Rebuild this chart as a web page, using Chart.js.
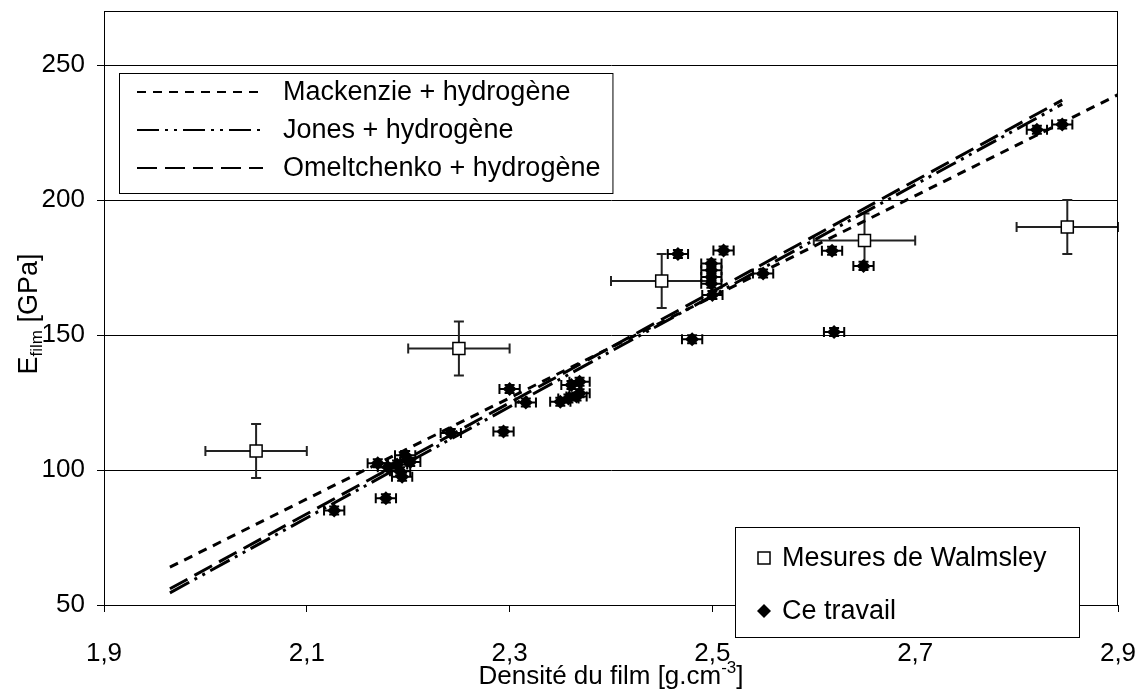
<!DOCTYPE html>
<html>
<head>
<meta charset="utf-8">
<script src="https://cdn.jsdelivr.net/npm/chart.js@4.4.1/dist/chart.umd.min.js"></script>
<style>
  html, body { margin: 0; padding: 0; background: #fff; }
  #wrap { width: 1144px; height: 690px; }
</style>
</head>
<body>
<div id="wrap"><canvas id="grafico" width="1144" height="690"></canvas></div>
<script>
// valeurs
const xTicks = [1.9, 2.1, 2.3, 2.5, 2.7, 2.9];
const yTicks = [50, 100, 150, 200, 250];

// droites des modèles (extrémités)
const mackX = [1.965, 2.9];
const mackY = [64, 239];
const jonesX = [1.965, 2.845];
const jonesY = [54.5, 235.5];
const omelX = [1.965, 2.845];
const omelY = [56, 237];

// mesures de Walmsley
const walmX = [2.05, 2.25, 2.45, 2.65, 2.85];
const walmY = [107, 145, 170, 185, 190];
const walmErrX = [0.05, 0.05, 0.05, 0.05, 0.05];
const walmErrY = [10, 10, 10, 10, 10];

// ce travail
const ceX = [2.127, 2.170, 2.178, 2.180, 2.189, 2.192, 2.194, 2.197, 2.202, 2.242,
             2.294, 2.300, 2.316, 2.350, 2.358, 2.361, 2.366, 2.369, 2.369, 2.466,
             2.480, 2.499, 2.499, 2.499, 2.499, 2.500, 2.511, 2.550, 2.618, 2.620,
             2.649, 2.820, 2.845];
const ceY = [85, 102.5, 89.5, 101, 102, 99.5, 97.5, 105.5, 103, 113.7,
             114.3, 130, 125, 125.3, 126.5, 131.5, 127.2, 128.4, 132.7, 180,
             148.4, 176.5, 174, 171.5, 169, 164.8, 181.3, 172.8, 181.2, 151.1,
             175.6, 226, 228];
const ceErrX = [0.01, 0.01, 0.01, 0.01, 0.01, 0.01, 0.01, 0.01, 0.01, 0.01,
                0.01, 0.01, 0.01, 0.01, 0.01, 0.01, 0.01, 0.01, 0.01, 0.01,
                0.01, 0.01, 0.01, 0.01, 0.01, 0.01, 0.01, 0.01, 0.01, 0.01,
                0.01, 0.01, 0.01];
const ceErrY = [1.5, 1.5, 1.5, 1.5, 1.5, 1.5, 1.5, 1.5, 1.5, 1.5,
                1.5, 1.5, 1.5, 1.5, 1.5, 1.5, 1.5, 1.5, 1.5, 1.5,
                1.5, 1.5, 1.5, 1.5, 1.5, 1.5, 1.5, 1.5, 1.5, 1.5,
                1.5, 1.5, 1.5];

const FONTE = '"Liberation Sans", Arial, sans-serif';

function pares(xs, ys) {
    return xs.map((x, i) => ({ x: x, y: ys[i] }));
}

function virgule(v) {
    return v.toFixed(1).replace('.', ',');
}

// barres d'erreur, dessinées avec les échelles du graphique
const barresErreur = {
    id: 'barresErreur',
    beforeDatasetsDraw(chart) {
        const ctx = chart.ctx;
        const sx = chart.scales.x;
        const sy = chart.scales.y;
        const series = [
            { xs: walmX, ys: walmY, ex: walmErrX, ey: walmErrY, cap: 5, couleur: '#222' },
            { xs: ceX, ys: ceY, ex: ceErrX, ey: ceErrY, cap: 5, couleur: '#000' }
        ];
        ctx.save();
        ctx.lineWidth = 2;
        series.forEach(s => {
            ctx.strokeStyle = s.couleur;
            s.xs.forEach((x, i) => {
                const y = s.ys[i];
                const px = sx.getPixelForValue(x);
                const py = sy.getPixelForValue(y);
                const x1 = sx.getPixelForValue(x - s.ex[i]);
                const x2 = sx.getPixelForValue(x + s.ex[i]);
                const y1 = sy.getPixelForValue(y - s.ey[i]);
                const y2 = sy.getPixelForValue(y + s.ey[i]);
                ctx.beginPath();
                ctx.moveTo(x1, py); ctx.lineTo(x2, py);
                ctx.moveTo(x1, py - s.cap); ctx.lineTo(x1, py + s.cap);
                ctx.moveTo(x2, py - s.cap); ctx.lineTo(x2, py + s.cap);
                ctx.moveTo(px, y1); ctx.lineTo(px, y2);
                ctx.moveTo(px - s.cap, y1); ctx.lineTo(px + s.cap, y1);
                ctx.moveTo(px - s.cap, y2); ctx.lineTo(px + s.cap, y2);
                ctx.stroke();
            });
        });
        ctx.restore();
    }
};

function carre(ctx, x, y, r) {
    const d = r * Math.SQRT1_2;
    ctx.beginPath();
    ctx.rect(x - d, y - d, 2 * d, 2 * d);
    ctx.fillStyle = '#fff';
    ctx.fill();
    ctx.lineWidth = 1.5;
    ctx.strokeStyle = '#000';
    ctx.stroke();
}

function losange(ctx, x, y, r) {
    ctx.beginPath();
    ctx.moveTo(x, y - r); ctx.lineTo(x + r, y);
    ctx.lineTo(x, y + r); ctx.lineTo(x - r, y);
    ctx.closePath();
    ctx.fillStyle = '#000';
    ctx.fill();
}

// cadre, titres des axes et légendes
const decor = {
    id: 'decor',
    afterDraw(chart) {
        const ctx = chart.ctx;
        const a = chart.chartArea;
        ctx.save();

        ctx.strokeStyle = '#000';
        ctx.lineWidth = 1;
        ctx.strokeRect(a.left + 0.5, a.top + 0.5, a.right - a.left - 1, a.bottom - a.top);

        // titre axe x
        ctx.fillStyle = '#000';
        ctx.textBaseline = 'middle';
        ctx.textAlign = 'left';
        const f1 = '26px ' + FONTE;
        const f2 = '17px ' + FONTE;
        ctx.font = f1;
        const t1 = 'Densité du film [g.cm';
        const w1 = ctx.measureText(t1).width;
        const w3 = ctx.measureText(']').width;
        ctx.font = f2;
        const w2 = ctx.measureText('-3').width;
        let x0 = (a.left + a.right) / 2 - (w1 + w2 + w3) / 2;
        const yt = 677;
        ctx.font = f1; ctx.fillText(t1, x0, yt);
        ctx.font = f2; ctx.fillText('-3', x0 + w1, yt - 9);
        ctx.font = f1; ctx.fillText(']', x0 + w1 + w2, yt);

        // titre axe y
        ctx.save();
        ctx.translate(30, 314);
        ctx.rotate(-Math.PI / 2);
        ctx.font = '27px ' + FONTE;
        const e1 = ctx.measureText('E').width;
        const e3 = ctx.measureText(' [GPa]').width;
        ctx.font = f2;
        const e2 = ctx.measureText('film').width;
        x0 = -(e1 + e2 + e3) / 2;
        ctx.font = '27px ' + FONTE; ctx.fillText('E', x0, 0);
        ctx.font = f2; ctx.fillText('film', x0 + e1, 7);
        ctx.font = '27px ' + FONTE; ctx.fillText(' [GPa]', x0 + e1 + e2, 0);
        ctx.restore();

        // légende des modèles
        const ds = chart.data.datasets;
        ctx.font = '27px ' + FONTE;
        let large = 0;
        [0, 1, 2].forEach(i => { large = Math.max(large, ctx.measureText(ds[i].label).width); });
        ctx.fillStyle = '#fff';
        ctx.fillRect(119, 73, 283 + large + 12 - 119, 120);
        ctx.strokeStyle = '#000';
        ctx.lineWidth = 1;
        ctx.strokeRect(119.5, 73.5, 283 + large + 12 - 119, 120);
        const rangs = [92, 130, 168];
        [0, 1, 2].forEach((i, k) => {
            ctx.beginPath();
            ctx.setLineDash(ds[i].borderDash);
            ctx.lineWidth = 2;
            ctx.strokeStyle = '#000';
            ctx.moveTo(137, rangs[k]);
            ctx.lineTo(263, rangs[k]);
            ctx.stroke();
            ctx.setLineDash([]);
            ctx.fillStyle = '#000';
            ctx.fillText(ds[i].label, 283, rangs[k] + 1);
        });

        // légende des points
        ctx.fillStyle = '#fff';
        ctx.fillRect(735, 527, 344, 110);
        ctx.strokeStyle = '#000';
        ctx.lineWidth = 1;
        ctx.strokeRect(735.5, 527.5, 344, 110);
        carre(ctx, 764, 558, 8.5);
        losange(ctx, 764, 611, 7);
        ctx.fillStyle = '#000';
        ctx.fillText(ds[3].label, 782, 559);
        ctx.fillText(ds[4].label, 782, 612);

        ctx.restore();
    }
};

function dessinerGraphique() {
    const ctx = document.getElementById('grafico');

    new Chart(ctx, {
        type: 'scatter',
        data: {
            datasets: [
                {
                    label: 'Mackenzie + hydrogène',
                    data: pares(mackX, mackY),
                    showLine: true,
                    borderColor: '#000',
                    borderWidth: 3,
                    borderDash: [9, 7],
                    pointRadius: 0
                },
                {
                    label: 'Jones + hydrogène',
                    data: pares(jonesX, jonesY),
                    showLine: true,
                    borderColor: '#000',
                    borderWidth: 3,
                    borderDash: [22, 6, 3, 6, 3, 6],
                    pointRadius: 0
                },
                {
                    label: 'Omeltchenko + hydrogène',
                    data: pares(omelX, omelY),
                    showLine: true,
                    borderColor: '#000',
                    borderWidth: 3,
                    borderDash: [20, 8],
                    pointRadius: 0
                },
                {
                    label: 'Mesures de Walmsley',
                    data: pares(walmX, walmY),
                    pointStyle: 'rect',
                    pointRadius: 8.5,
                    backgroundColor: '#fff',
                    borderColor: '#000',
                    borderWidth: 1.5
                },
                {
                    label: 'Ce travail',
                    data: pares(ceX, ceY),
                    pointStyle: 'rectRot',
                    pointRadius: 7,
                    backgroundColor: '#000',
                    borderColor: '#000',
                    borderWidth: 0
                }
            ]
        },
        options: {
            responsive: false,
            animation: false,
            events: [],
            layout: { padding: { top: 11, right: 26, left: 0, bottom: 0 } },
            plugins: {
                legend: { display: false },
                tooltip: { enabled: false }
            },
            scales: {
                x: {
                    type: 'linear',
                    min: 1.9,
                    max: 2.9,
                    afterBuildTicks: s => { s.ticks = xTicks.map(v => ({ value: v })); },
                    afterFit: s => { s.height = 85; s.paddingLeft = 0; s.paddingRight = 0; },
                    ticks: {
                        color: '#000',
                        padding: 26,
                        maxRotation: 0,
                        font: { family: FONTE, size: 26 },
                        callback: v => virgule(v)
                    },
                    grid: { drawOnChartArea: false, color: '#000', tickLength: 7 },
                    border: { color: '#000', width: 1 }
                },
                y: {
                    type: 'linear',
                    min: 50,
                    max: 270,
                    afterBuildTicks: s => { s.ticks = yTicks.map(v => ({ value: v })); },
                    afterFit: s => { s.width = 104; s.paddingTop = 0; s.paddingBottom = 0; },
                    ticks: {
                        color: '#000',
                        padding: 12,
                        font: { family: FONTE, size: 26 }
                    },
                    grid: { color: '#000', lineWidth: 1, tickLength: 7 },
                    border: { color: '#000', width: 1 }
                }
            }
        },
        plugins: [barresErreur, decor]
    });
}

dessinerGraphique();
</script>
</body>
</html>
